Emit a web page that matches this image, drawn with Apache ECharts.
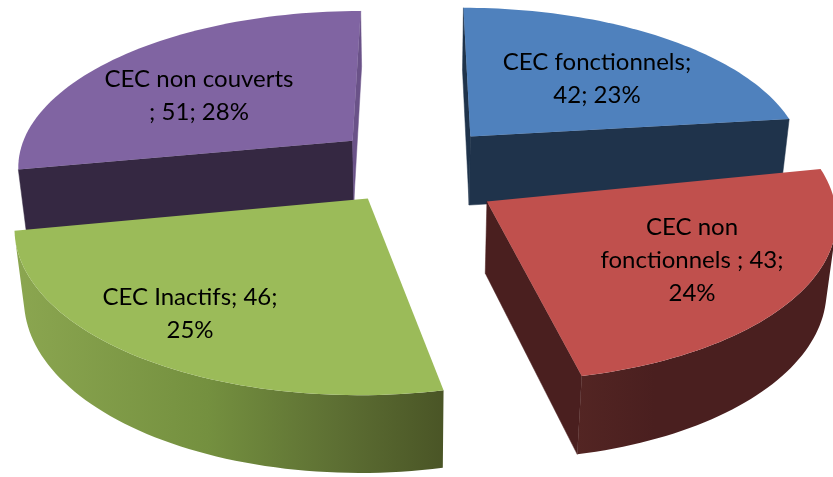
<!DOCTYPE html>
<html lang="fr">
<head>
  <meta charset="UTF-8">
  <title>CEC</title>
  <style>
    html, body { margin: 0; padding: 0; background: #fff; }
    #main { width: 833px; height: 477px; }
  </style>
</head>
<body>
<div id="main"></div>
<script src="https://cdn.jsdelivr.net/npm/echarts@6/dist/echarts.min.js"></script>
<script>
  var categories = ['CEC fonctionnels', 'CEC non\nfonctionnels', 'CEC Inactifs', 'CEC non couverts'];
  var values = [42, 43, 46, 51];
  var labelFormats = ['{n};\n{v}; {p}%', '{n} ; {v};\n{p}%', '{n}; {v};\n{p}%', '{n}\n; {v}; {p}%'];

  var topColors = ['#4f81bd', '#c0504d', '#9bbb59', '#8064a2'];
  var sideColors = ['#1f334b', '#4a1f1f', '#4b5627', '#352842'];
  var endColors = ['#1f334b', '#4a1f1f', '#4b5627', '#6a5288'];
  // outer wall gradient, left to right
  var arcStops = [
    [[0, '#1f334b'], [1, '#1f334b']],
    [[0, '#532523'], [0.3, '#4a1f1f'], [1, '#4a1f1f']],
    [[0, '#8ba650'], [0.45, '#74903f'], [0.75, '#5d6f33'], [1, '#4a5526']],
    [[0, '#352842'], [1, '#352842']]
  ];
  var labelPos = [[597, 79], [692, 260], [190, 314], [199, 96]];
  var drawOrder = [1, 4, 3, 2];
  var depth = [1.15, 1.16, 1.14, 1.02];
  var apexShift = [[0, 0], [0, 0.08], [0, 0], [0, 0]];

  // camera: simple pinhole, world radius is 1
  var cam = { cx: 416, cy: 165, A: 337, B: 156, C: 62, k: 0.15, m: 0.02, explode: 0.25 };

  function project(X, Y, Z) {
    var w = 1 - cam.k * Y + cam.m * Z;
    return [cam.cx + cam.A * X / w, cam.cy + (cam.B * Y + cam.C * Z) / w];
  }

  var total = values.reduce(function (a, b) { return a + b; }, 0);

  function area(p) {
    var s = 0;
    for (var i = 0; i < p.length; i++) {
      var q = p[(i + 1) % p.length];
      s += p[i][0] * q[1] - q[0] * p[i][1];
    }
    return s;
  }

  function renderSlice(params, api) {
    var i = params.dataIndex;
    var before = 0;
    for (var j = 0; j < i; j++) before += values[j];
    var v = api.value(0);
    var a0 = before / total * Math.PI * 2;
    var a1 = (before + v) / total * Math.PI * 2;
    var mid = (a0 + a1) / 2;
    var ox = cam.explode * Math.sin(mid), oy = -cam.explode * Math.cos(mid);
    var d = depth[i];

    var rim = [];
    var steps = 60;
    for (var s = 0; s <= steps; s++) {
      var a = a0 + (a1 - a0) * s / steps;
      rim.push([ox + Math.sin(a), oy - Math.cos(a)]);
    }
    var children = [];
    var z = drawOrder[i] * 100;

    function quad(p, q) {
      return [project(p[0], p[1], 0), project(q[0], q[1], 0), project(q[0], q[1], d), project(p[0], p[1], d)];
    }
    function wall(p, q, color) {
      var pts = quad(p, q);
      if (area(pts) >= 0) return;
      children.push({
        type: 'polygon', z2: z,
        shape: { points: pts },
        style: { fill: color, stroke: color, lineWidth: 0.5 }
      });
    }

    var apex = [ox + apexShift[i][0], oy + apexShift[i][1]];
    wall(apex, rim[0], sideColors[i]);
    wall(rim[steps], apex, endColors[i]);

    // the part of the outer wall that faces the camera, as one shape
    var upper = [], lower = [];
    for (var n = 0; n < steps; n++) {
      var q = quad(rim[n], rim[n + 1]);
      if (area(q) < 0) {
        if (!upper.length) { upper.push(q[0]); lower.push(q[3]); }
        upper.push(q[1]); lower.push(q[2]);
      }
    }
    if (upper.length) {
      var pts = upper.concat(lower.reverse());
      var xs = pts.map(function (p) { return p[0]; });
      var grad = new echarts.graphic.LinearGradient(
        Math.min.apply(null, xs), 0, Math.max.apply(null, xs), 0,
        arcStops[i].map(function (c) { return { offset: c[0], color: c[1] }; }),
        true
      );
      children.push({
        type: 'polygon', z2: z,
        shape: { points: pts },
        style: { fill: grad }
      });
    }

    var topPts = [project(apex[0], apex[1], 0)].concat(rim.map(function (r) { return project(r[0], r[1], 0); }));
    children.push({
      type: 'polygon', z2: z + 1,
      shape: { points: topPts },
      style: { fill: topColors[i] }
    });

    var pct = Math.round(v / total * 100);
    var text = labelFormats[i].replace('{n}', categories[i]).replace('{v}', v).replace('{p}', pct);
    children.push({
      type: 'text', z2: z + 2,
      x: labelPos[i][0], y: labelPos[i][1],
      style: {
        text: text, fill: '#000', align: 'center', verticalAlign: 'middle',
        font: '24px Lato', lineHeight: 33
      }
    });
    return { type: 'group', children: children };
  }

  var myChart = echarts.init(document.getElementById('main'));
  myChart.setOption({
    backgroundColor: '#fff',
    animation: false,
    series: [{
      type: 'custom',
      coordinateSystem: 'none',
      renderItem: renderSlice,
      clip: false,
      data: values.map(function (v) { return [v]; })
    }]
  });
</script>
</body>
</html>
